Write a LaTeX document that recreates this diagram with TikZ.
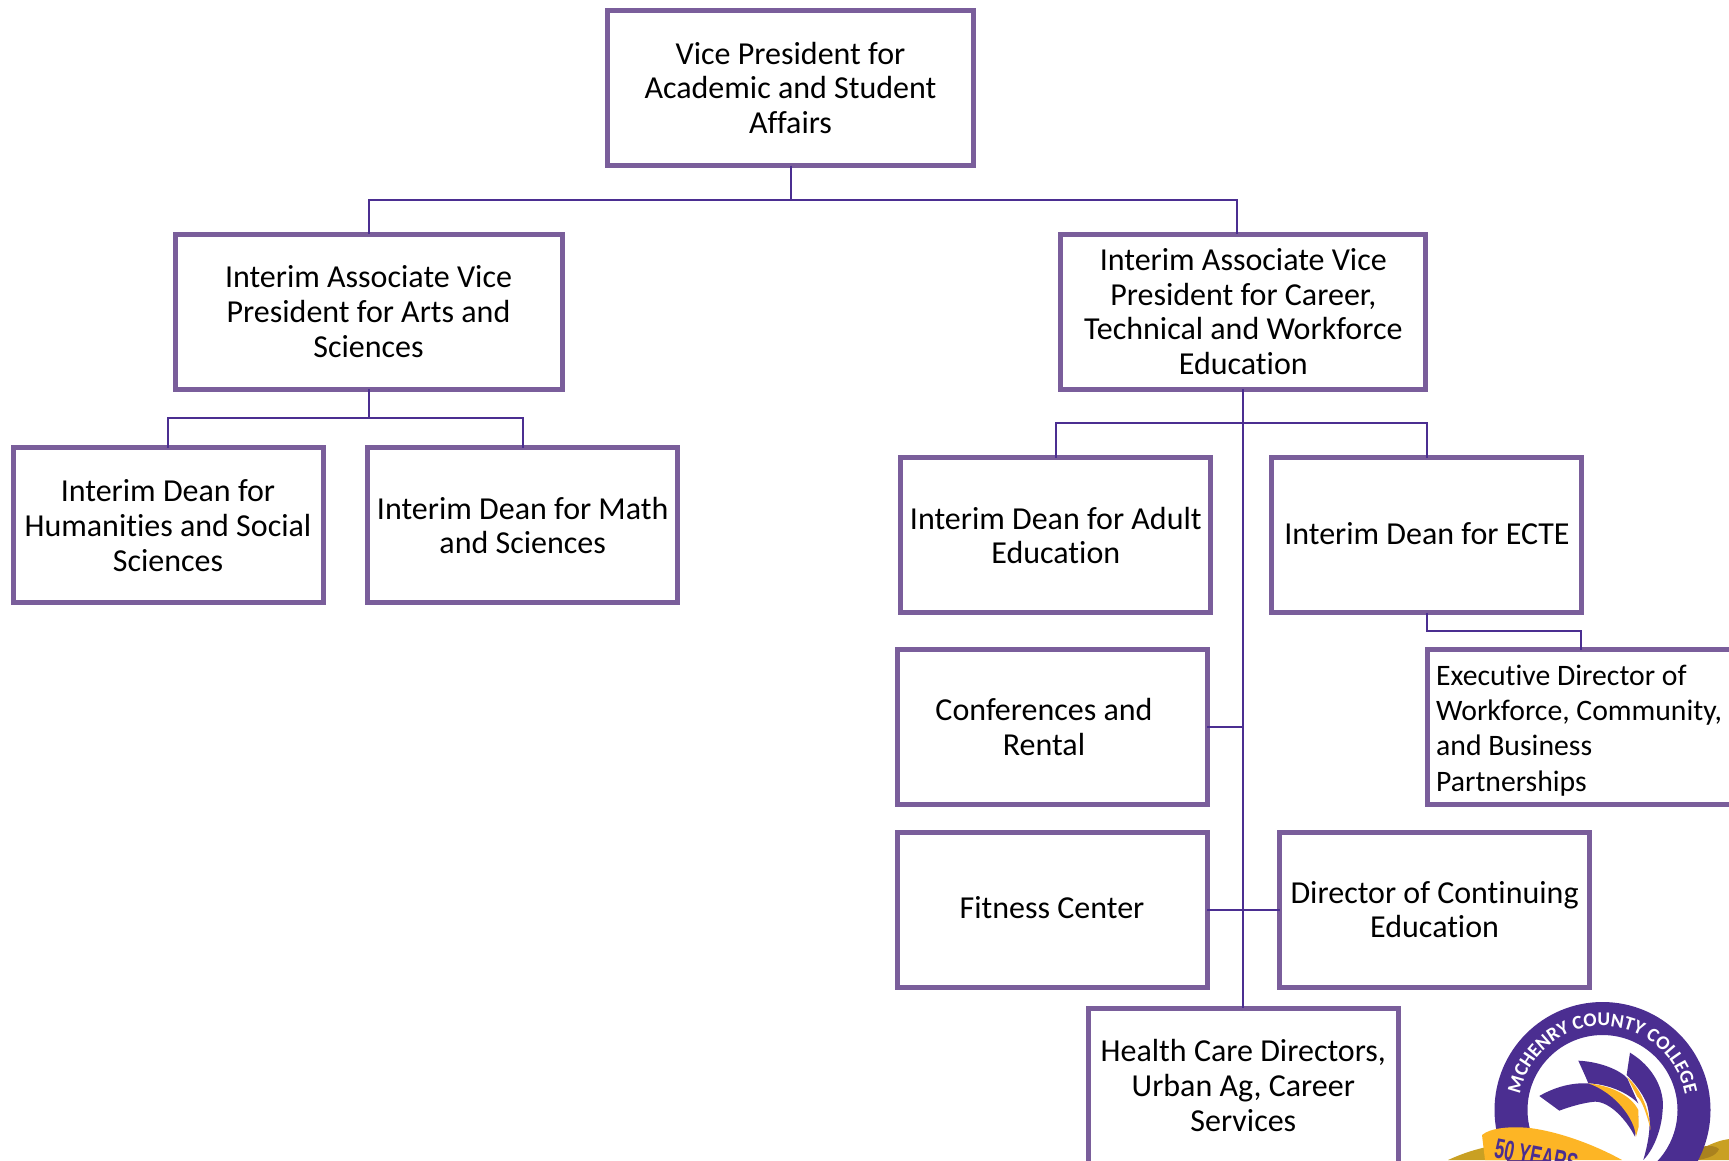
\documentclass[tikz,border=0pt]{standalone}
\usepackage{fontspec}
\setmainfont[Ligatures=NoCommon]{Carlito}
\newfontfamily\bannerfont{Liberation Sans}
\usetikzlibrary{positioning, decorations.text}
\definecolor{mccbox}{RGB}{122,94,155}
\definecolor{mcclink}{RGB}{75,46,145}
\definecolor{mccgold}{RGB}{253,181,37}
\definecolor{mccdark}{RGB}{201,160,35}
\definecolor{mccolive}{RGB}{170,130,30}
\tikzset{
  orgbox/.style={rectangle, draw=mccbox, line width=5pt, fill=white, text=black,
        minimum width=310pt, minimum height=155pt, inner sep=4pt, outer sep=0pt,
        align=center, font=\fontsize{32}{34.7}\selectfont},
  orgsingle/.style={orgbox, text height=22pt, text depth=4pt},
  orglabel/.style={text=black, align=center, font=\fontsize{32}{34.7}\selectfont},
  orglink/.style={draw=mcclink, line width=2pt}
}

\begin{document}
\begin{tikzpicture}[x=1pt, y=-1pt]
  \useasboundingbox (0,0) rectangle (1729,1160);
  \clip (0,0) rectangle (1729,1160);
  \fill[white] (0,0) rectangle (1729,1160);

  % Top level
  \node[orgbox, minimum width=366pt] (vp) at (790.5,88)
    {Vice President for\\Academic and Student\\Affairs};

  % Associate vice presidents
  \node[orgbox, minimum width=387pt] (avparts) at (368.5,311.5)
    {Interim Associate Vice\\President for Arts and\\Sciences};
  \node[orgbox, minimum width=365pt] (avpcareer) at (1243.3,311.5)
    {Interim Associate Vice\\President for Career,\\Technical and Workforce\\Education};
  \coordinate (avpcareertop) at (1237,234);

  % Left branch
  \node[orgbox] (deanhum) at (168,525.4)
    {Interim Dean for\\Humanities and Social\\Sciences};
  \node[orgbox] (deanmath) at (522.7,525.4)
    {Interim Dean for Math\\and Sciences};

  % Right branch
  \node[orgbox] (deanadult) at (1055.8,535.4)
    {Interim Dean for Adult\\Education};
  \node[orgsingle] (deanecte) at (1426.9,535.4) {Interim Dean for ECTE};
  \node[orgbox, minimum width=308pt] (execdir) at (1581,727) {};
  \node[orglabel, align=left, anchor=west, inner sep=0pt,
        font=\fontsize{29.7}{35.2}\selectfont] (execlabel) at (1436,730.5)
    {Executive Director of\\Workforce, Community,\\and Business\\Partnerships};
  \node[orgbox] (conf) at (1052,727) {};
  \node[orglabel] (conflabel) at (1044,727) {Conferences and\\Rental};
  \node[orgsingle] (fitness) at (1052,909.7) {Fitness Center};
  \node[orgbox] (contedu) at (1434.6,909.7)
    {Director of Continuing\\Education};
  \node[orgbox] (health) at (1243.3,1085.5)
    {Health Care Directors,\\Urban Ag, Career\\Services};

  % Connectors
  \draw[orglink] (vp.south) -- (790.5,199.6) -| (avparts.north);
  \draw[orglink] (vp.south) -- (790.5,199.6) -| (avpcareertop);
  \draw[orglink] (avparts.south) -- (368.5,418) -| (deanhum.north);
  \draw[orglink] (avparts.south) -- (368.5,418) -| (deanmath.north);
  \draw[orglink] (avpcareer.south) -- (health.north);
  \draw[orglink] (deanadult.north) |- (1243.3,423) -| (deanecte.north);
  \draw[orglink] (deanecte.south) |- (1581,631) -- (execdir.north);
  \draw[orglink] (conf.east) -- (avpcareer.south |- conf.east);
  \draw[orglink] (fitness.east) -- (contedu.west);

  % Logo ring with its lettering
  \fill[mccdark] (1448,1160) .. controls (1470,1150) and (1490,1145) .. (1510,1144)
    -- (1540,1160) -- cycle;
  \fill[mccdark] (1690,1160) -- (1705,1147) .. controls (1715,1142) and (1722,1140) .. (1729,1139)
    -- (1729,1160) -- cycle;
  \fill[mccolive] (1700,1147) .. controls (1710,1145) and (1716,1146) .. (1719,1149)
    .. controls (1716,1156) and (1708,1158) .. (1698,1160) -- cycle;
  \draw[mcclink, line width=33pt] (1602.5,1110) circle (91.5pt);
  \path[postaction={decorate, decoration={text along path, text align=center,
        text={|\bfseries\fontsize{19.5}{19.5}\selectfont\color{white}|MCHENRY COUNTY COLLEGE}}}]
    (1602.5,1110) ++(185:84pt) arc[start angle=185, end angle=-5, radius=84pt];

  % Logo wings, traced in the crop's thirds of a pixel
  \begin{scope}[shift={(1400,960)}, x=0.3333pt, y=-0.3333pt]
    \fill[mcclink] (418,408) .. controls (470,378) and (520,368) .. (565,370)
      .. controls (640,385) and (700,420) .. (715,470) -- (705,530)
      .. controls (680,480) and (630,425) .. (585,425)
      .. controls (550,428) and (510,440) .. (478,452) -- cycle;
    \fill[mcclink] (535,302) .. controls (600,305) and (660,330) .. (682,355)
      -- (715,430) .. controls (680,395) and (620,372) .. (565,370)
      .. controls (555,345) and (545,325) .. cycle;
    \fill[mcclink] (690,278) .. controls (760,320) and (795,390) .. (788,450)
      .. controls (785,510) and (760,570) .. (730,600)
      .. controls (750,530) and (755,480) .. (740,430)
      .. controls (725,395) and (700,365) .. (680,345) -- cycle;
    \fill[mccgold] (565,370) .. controls (640,378) and (695,410) .. (715,450)
      -- (716,500) -- (708,530) .. controls (705,480) and (650,400) .. cycle;
    \fill[mccgold] (682,352) .. controls (720,385) and (745,440) .. (752,510)
      .. controls (740,460) and (725,420) .. (712,410) -- cycle;
  \end{scope}

  % Banner over the ring
  \fill[mccgold] (1485,1160) -- (1482,1135) .. controls (1490,1128) and (1510,1126) .. (1530,1128)
    .. controls (1560,1132) and (1595,1145) .. (1622,1160) -- cycle;
  \node[mcclink, font=\bannerfont\bfseries\fontsize{28}{28}\selectfont, anchor=west,
        rotate=-11, xscale=0.62, inner sep=0pt] (bannertext) at (1495,1148) {50 YEARS};
\end{tikzpicture}
\end{document}
